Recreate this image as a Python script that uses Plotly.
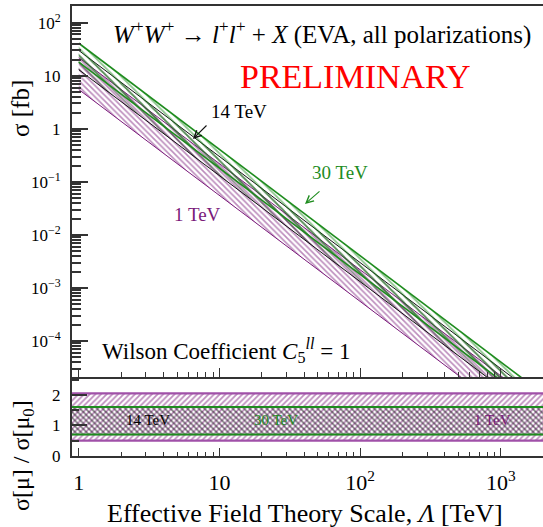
import plotly.graph_objects as go

# ---------------- data ----------------
LAMBDA = [1, 10, 100, 1000, 2000]          # EFT scale [TeV]

# cross-section bands sigma [fb] (lower / upper edge, scale variation)
SIG_1TEV_LO = [5.5, 5.5e-2, 5.5e-4, 5.5e-6, 1.4e-6]
SIG_1TEV_HI = [22, 0.22, 2.2e-3, 2.2e-5, 5.5e-6]
SIG_14TEV_LO = [13, 0.13, 1.3e-3, 1.3e-5, 3.3e-6]
SIG_14TEV_HI = [30, 0.30, 3.0e-3, 3.0e-5, 7.5e-6]
SIG_30TEV_LO = [18, 0.18, 1.8e-3, 1.8e-5, 4.5e-6]
SIG_30TEV_HI = [41, 0.41, 4.1e-3, 4.1e-5, 1.0e-5]

# ratio panel sigma[mu]/sigma[mu0]
RATIO_X = [0.85, 2500]
RATIO_1TEV = [0.5, 2.05]
RATIO_14TEV = [0.7, 1.6]
RATIO_30TEV = [0.7, 1.6]

X_TICKS = [1, 10, 100, 1000]
X_TICKTEXT = ["1", "10", "10<sup>2</sup>", "10<sup>3</sup>"]
Y_TICKS = [1e-4, 1e-3, 1e-2, 1e-1, 1, 10, 100]
Y_TICKTEXT = ["10<sup>−4</sup>", "10<sup>−3</sup>", "10<sup>−2</sup>", "10<sup>−1</sup>", "1", "10", "10<sup>2</sup>"]

PURPLE = "#7a1a7a"
PURPLE_L = "#a050a8"
GREEN = "#1e8c1e"
BLACK = "#111111"
FONT = "Liberation Serif"

fig = go.Figure()

def band(x, lo, hi, col, shape, xa, ya, lw=1.0, edge=None, size=4, sol=0.3):
    edge = edge or col
    fig.add_trace(go.Scatter(x=x, y=lo, mode="lines", line=dict(color=edge, width=lw),
                             xaxis=xa, yaxis=ya, showlegend=False, hoverinfo="skip"))
    fig.add_trace(go.Scatter(x=x, y=hi, mode="lines", line=dict(color=edge, width=lw),
                             fill="tonexty", fillcolor="rgba(0,0,0,0)",
                             fillpattern=dict(shape=shape, fgcolor=col, bgcolor="rgba(0,0,0,0)",
                                              size=size, solidity=sol),
                             xaxis=xa, yaxis=ya, showlegend=False, hoverinfo="skip"))

# main panel
band(LAMBDA, SIG_1TEV_LO, SIG_1TEV_HI, PURPLE, "\\", "x", "y", lw=1.0, size=4, sol=0.4)
band(LAMBDA, SIG_14TEV_LO, SIG_14TEV_HI, BLACK, "\\", "x", "y", lw=1.0, size=5, sol=0.3)
band(LAMBDA, SIG_30TEV_LO, SIG_30TEV_HI, GREEN, "\\", "x", "y", lw=1.6, size=5, sol=0.35)

# ratio panel
band(RATIO_X, [RATIO_1TEV[0]] * 2, [RATIO_1TEV[1]] * 2, PURPLE, "/", "x2", "y2", lw=2.2, edge=PURPLE_L, size=4, sol=0.45)
band(RATIO_X, [RATIO_14TEV[0]] * 2, [RATIO_14TEV[1]] * 2, BLACK, "\\", "x2", "y2", lw=1.0, size=4, sol=0.45)
fig.add_trace(go.Scatter(x=RATIO_X, y=[RATIO_30TEV[0]] * 2, mode="lines", line=dict(color=GREEN, width=2),
                         xaxis="x2", yaxis="y2", showlegend=False))
fig.add_trace(go.Scatter(x=RATIO_X, y=[RATIO_30TEV[1]] * 2, mode="lines", line=dict(color=GREEN, width=2),
                         xaxis="x2", yaxis="y2", showlegend=False))

minor_x = [m * 10 ** k for k in range(0, 4) for m in range(2, 10)]
minor_y = [m * 10.0 ** k for k in range(-5, 3) for m in range(2, 10)]
XR = [-0.048, 3.30]
AX = "#333333"

fig.update_layout(
    width=543, height=527,
    margin=dict(l=72, r=0, t=6, b=71),
    paper_bgcolor="white", plot_bgcolor="white",
    font=dict(family=FONT, color="black"),
    xaxis=dict(type="log", range=XR, domain=[0, 1], anchor="y",
               tickvals=X_TICKS, showticklabels=False, ticks="inside", ticklen=9,
               tickcolor=AX, tickwidth=1, showgrid=False, zeroline=False,
               showline=True, linecolor=AX, linewidth=2, mirror=True,
               minor=dict(tickvals=minor_x, ticks="inside", ticklen=5, tickcolor=AX, showgrid=False)),
    yaxis=dict(type="log", range=[-4.68, 2.315], domain=[0.1756, 1], anchor="x",
               tickvals=Y_TICKS, ticktext=Y_TICKTEXT, ticks="inside", ticklen=16,
               tickcolor=AX, tickwidth=1.5, showgrid=False, zeroline=False,
               showline=True, linecolor=AX, linewidth=2,
               tickfont=dict(size=17, family=FONT), ticklabelstandoff=6,
               minor=dict(tickvals=minor_y, ticks="inside", ticklen=9, tickcolor=AX, showgrid=False)),
    xaxis2=dict(type="log", range=XR, domain=[0, 1], anchor="y2",
                tickvals=X_TICKS, ticktext=X_TICKTEXT, ticks="inside", ticklen=8,
                tickcolor=AX, tickwidth=1, showgrid=False, zeroline=False,
                showline=True, linecolor=AX, linewidth=2,
                tickfont=dict(size=22, family=FONT), ticklabelstandoff=6,
                minor=dict(tickvals=minor_x, ticks="inside", ticklen=4, tickcolor=AX, showgrid=False)),
    yaxis2=dict(range=[0, 2.55], domain=[0, 0.1733], anchor="x2",
                tickvals=[0, 1, 2], ticks="inside", ticklen=15, tickcolor=AX, tickwidth=1.5,
                showgrid=False, zeroline=False, showline=True, linecolor=AX, linewidth=2,
                tickfont=dict(size=17, family=FONT), ticklabelstandoff=6,
                minor=dict(tickvals=[0.5, 1.5, 2.5], ticks="inside", ticklen=7, tickcolor=AX, showgrid=False)),
)

def px(xp):
    return (xp - 72) / 471.0

def py(yp):
    return (456 - yp) / 450.0

ann = []
def txt(text, x, y, size, color="black", xanchor="center", angle=0):
    ann.append(dict(text=text, x=px(x), y=py(y), xref="paper", yref="paper", showarrow=False,
                    xanchor=xanchor, yanchor="middle", textangle=angle,
                    font=dict(family=FONT, size=size, color=color)))

def arrow(x0, y0, x1, y1, color):
    ann.append(dict(text="", x=px(x1), y=py(y1), xref="paper", yref="paper",
                    ax=x0 - x1, ay=y0 - y1, showarrow=True, arrowhead=5, arrowsize=1.3,
                    arrowwidth=1.1, arrowcolor=color))

txt("<i>W</i><sup>+</sup><i>W</i><sup>+</sup> → <i>l</i><sup>+</sup><i>l</i><sup>+</sup> + <i>X</i> (EVA, all polarizations)",
    322, 32, 25)
txt("PRELIMINARY", 355, 76, 34, color="#ff0000")
txt("14 TeV", 239, 112, 19)
arrow(208, 124, 193, 139, BLACK)
txt("30 TeV", 340, 173, 19, color=GREEN)
arrow(321, 190, 305, 204, GREEN)
txt("1 TeV", 197, 214, 19, color=PURPLE)
txt("Wilson Coefficient <i>C</i><sub>5</sub><sup><i>ll</i></sup> = 1", 100, 350, 23, xanchor="left")
txt("14 TeV", 148, 420, 15)
txt("30 TeV", 276, 420, 15, color=GREEN)
txt("1 TeV", 492, 420, 15, color=PURPLE)
txt("σ [fb]", 20, 109, 25, angle=-90)
txt("σ[μ] / σ[μ<sub>0</sub>]", 23, 456, 24, angle=-90)
txt("Effective Field Theory Scale, <i>Λ</i> [TeV]", 305, 513, 26)
fig.update_layout(annotations=ann)

fig.write_html("out.html")
